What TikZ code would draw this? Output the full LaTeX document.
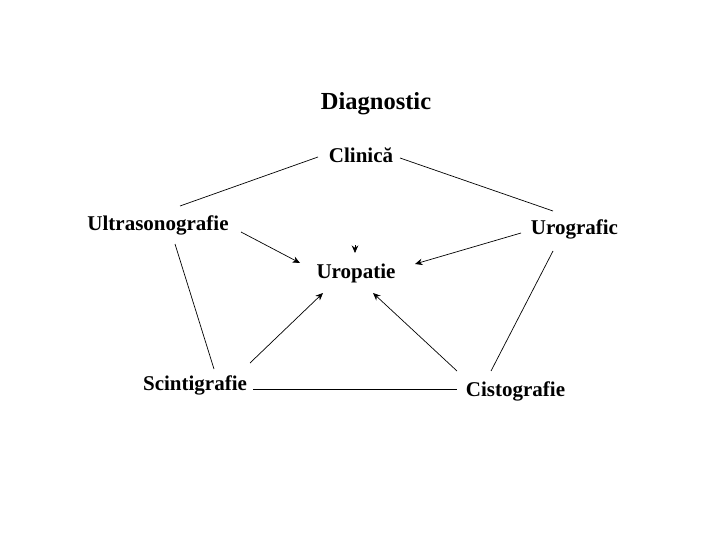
\documentclass[tikz,border=0pt]{standalone}
\usepackage{fontspec}
\setmainfont{Liberation Serif}
\usetikzlibrary{arrows.meta}
\begin{document}
\begin{tikzpicture}[x=1pt,y=-1pt,
  lbl/.style={font=\fontsize{21}{25}\selectfont\bfseries, inner sep=0pt, anchor=base},
  conn/.style={line width=0.7pt, black},
  arr/.style={conn, -{Stealth[length=7.5pt,width=6.5pt]}}]
\useasboundingbox[fill=white] (0,0) rectangle (720,540);
\node[lbl, font=\fontsize{24.5}{28}\selectfont\bfseries] (diag) at (376,110) {Diagnostic};
\node[lbl] (clin) at (361,163) {Clinică};
\node[lbl] (ultra) at (158,230) {Ultrasonografie};
\node[lbl] (urog) at (574.5,235) {Urografic};
\node[lbl] (urop) at (356,278) {Uropatie};
\node[lbl] (scint) at (195,390) {Scintigrafie};
\node[lbl] (cist) at (515.5,396) {Cistografie};
% pentagon sides
\draw[conn] ([shift={(-43,-6)}]clin.base) -- ([shift={(22,-24)}]ultra.base);
\draw[conn] ([shift={(39,-5)}]clin.base) -- ([shift={(-21.5,-24)}]urog.base);
\draw[conn] ([shift={(17,14)}]ultra.base) -- ([shift={(19,-21)}]scint.base);
\draw[conn] ([shift={(-21.5,16)}]urog.base) -- ([shift={(-24.5,-25)}]cist.base);
\draw[conn] ([shift={(58,-1)}]scint.base) -- ([shift={(-58.5,-7)}]cist.base);
% arrows to Uropatie
\draw[arr] ([shift={(83,2)}]ultra.base) -- ([shift={(-56,-15)}]urop.base);
\draw[arr] ([shift={(-53.5,-2)}]urog.base) -- ([shift={(59,-14)}]urop.base);
\draw[arr] ([shift={(55,-27)}]scint.base) -- ([shift={(-33,15)}]urop.base);
\draw[arr] ([shift={(-58.5,-25)}]cist.base) -- ([shift={(17,15)}]urop.base);
\draw[arr] ([shift={(-1,-33)}]urop.base) -- ([shift={(-1,-25)}]urop.base);
\end{tikzpicture}
\end{document}
